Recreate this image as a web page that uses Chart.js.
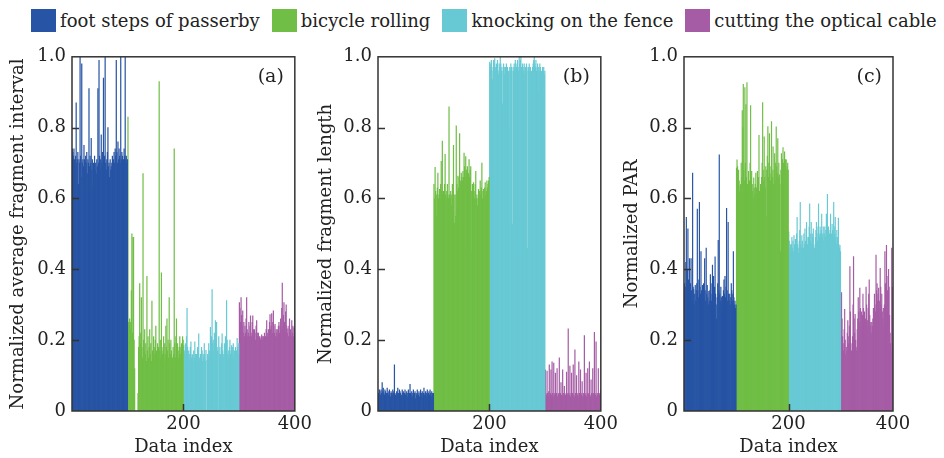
<!DOCTYPE html>
<html>
<head>
<meta charset="utf-8">
<script src="https://cdn.jsdelivr.net/npm/chart.js@4.4.0/dist/chart.umd.min.js"></script>
<style>
  html, body { margin: 0; padding: 0; background: #fff; }
  #page { position: relative; width: 944px; height: 458px; overflow: hidden; font-family: 'DejaVu Serif', serif; color: #222; }
  #legend { position: absolute; left: 31px; top: 9px; display: flex; align-items: center; font-size: 18px; white-space: nowrap; }
  #legend .item { display: flex; align-items: center; margin-right: 12px; }
  #legend .sw { display: inline-block; width: 25px; height: 23px; margin-right: 4px; }
  .panel { position: absolute; top: 40px; }
</style>
</head>
<body>
<div id="page">
  <div id="legend"></div>
  <canvas id="chartA" class="panel"></canvas>
  <canvas id="chartB" class="panel"></canvas>
  <canvas id="chartC" class="panel"></canvas>
</div>
<script>
const seriesNames = ['foot steps of passerby', 'bicycle rolling', 'knocking on the fence', 'cutting the optical cable'];
const colors = ['#2754a4', '#70be45', '#67c9d4', '#a55ca5'];
const xTicks = [200, 400];
const yTicks = [0, 0.2, 0.4, 0.6, 0.8, 1.0];

// (a) normalized average fragment interval
const footA = [0.74,0.73,0.72,0.74,0.71,0.69,0.72,0.87,0.70,0.71, 0.73,0.64,0.71,0.70,1.00,0.72,0.66,0.98,0.70,0.71,
  0.69,0.75,0.71,0.68,0.72,0.70,0.73,0.67,0.71,0.70, 0.91,0.69,0.72,0.70,0.77,0.68,0.71,0.63,0.70,0.69,
  0.72,0.68,0.70,0.67,0.71,0.69,0.91,0.70,0.99,0.72, 0.68,0.71,0.78,0.70,0.73,0.69,0.94,0.71,0.72,1.00,
  0.70,0.68,0.71,0.73,0.80,0.69,0.70,0.66,0.71,0.68, 0.69,0.70,0.72,0.67,0.71,0.73,0.70,0.74,0.72,0.99,
  0.73,0.70,0.76,0.71,0.74,0.72,0.70,1.00,0.71,0.73, 0.72,0.70,0.71,0.74,0.72,1.00,0.71,0.72,0.70,0.71];
const bicycleA = [0.83,0.25,0.24,0.26,0.23,0.25,0.34,0.50,0.22,0.49, 0.49,0.20,0.12,0,0,0,0,0,0.05,0.18,
  0.21,0.36,0.19,0.22,0.32,0.18,0.15,0.67,0.20,0.17, 0.23,0.16,0.19,0.14,0.38,0.17,0.21,0.15,0.18,0.23,
  0.16,0.19,0.14,0.31,0.17,0.15,0.21,0.18,0.16,0.20, 0.24,0.17,0.15,0.19,0.16,0.18,0.93,0.17,0.20,0.15,
  0.39,0.18,0.16,0.17,0.21,0.14,0.19,0.16,0.24,0.18, 0.26,0.17,0.20,0.15,0.32,0.19,0.16,0.20,0.17,0.14,
  0.15,0.18,0.16,0.74,0.19,0.15,0.21,0.26,0.17,0.19, 0.17,0.15,0.18,0.21,0.16,0.18,0.19,0.17,0.21,0.20];
const knockingA = [0.185,0.17,0.16,0.19,0,0.21,0.29,0.18,0.15,0.17, 0.16,0.14,0.18,0.195,0.15,0.16,0.158,0.14,0.17,0.15,
  0.195,0.16,0.14,0.16,0.15,0.18,0.17,0.218,0.15,0.14, 0.16,0.15,0.18,0.17,0.14,0.16,0.15,0.19,0.16,0.14,
  0.171,0,0.144,0.16,0.15,0.19,0.17,0.16,0.236,0.18, 0.21,0.343,0.19,0.20,0.17,0.22,0.19,0.255,0.20,0.25,
  0.18,0.17,0,0.21,0.16,0.18,0.16,0,0.19,0.218, 0.17,0.15,0.16,0.19,0,0.21,0.18,0.312,0.20,0.16,
  0.17,0.15,0.18,0.20,0.16,0.17,0.185,0.16,0.18,0.19, 0.15,0.17,0.16,0.18,0.15,0.17,0.205,0.18,0.16,0.19];
const cuttingA = [0.306,0.29,0.25,0.32,0.27,0.24,0.283,0.22,0.25,0.21, 0.24,0.22,0.26,0.32,0.23,0.21,0.22,0.25,0.21,0.24,
  0.269,0.22,0.21,0.25,0.269,0.23,0.21,0.23,0.22,0.20, 0.24,0.255,0.21,0.22,0.22,0.20,0.21,0.205,0.20,0.21,
  0.215,0.20,0.21,0.21,0.20,0.22,0.205,0.21,0.23,0.255, 0.21,0.22,0.23,0.20,0.25,0.272,0.23,0.24,0.275,0.22,
  0.25,0.283,0.24,0.22,0.245,0.21,0.23,0.22,0.23,0.21, 0.24,0.25,0.22,0.24,0.26,0.23,0.29,0.361,0.24,0.27,
  0.306,0.25,0.22,0.28,0.30,0.24,0.22,0.232,0.21,0.24, 0.26,0.22,0.23,0.21,0.255,0.22,0.24,0.21,0.235,0.22];

// (b) normalized fragment length
const footB = [0.05,0.04,0.06,0.055,0.045,0.06,0.05,0.08,0.055,0.065, 0.05,0.045,0.06,0.055,0.04,0.05,0.065,0.05,0.045,0.055,
  0.06,0.05,0.04,0.055,0.05,0.045,0.06,0.05,0.055,0.13, 0.05,0.045,0.04,0.055,0.05,0.065,0.05,0.045,0.06,0.055,
  0.05,0.04,0.045,0.06,0.05,0.055,0.045,0.05,0.06,0.045, 0.05,0.055,0.04,0.05,0.06,0.045,0.05,0.075,0.05,0.045,
  0.055,0.04,0.05,0.06,0.045,0.05,0.055,0.035,0.05,0.045, 0.06,0.05,0.045,0.055,0.04,0.05,0.06,0.045,0.05,0.055,
  0.04,0.05,0.065,0.045,0.05,0.055,0.04,0.05,0.06,0.045, 0.05,0.055,0.045,0.06,0.05,0.04,0.055,0.05,0.045,0.05];
const bicycleB = [0.64,0.60,0.688,0.62,0.55,0.61,0.63,0.672,0.60,0.61, 0.626,0.60,0.64,0.705,0.62,0.762,0.61,0.62,0.60,0.64,
  0.725,0.61,0.60,0.62,0.64,0.61,0.60,0.859,0.61,0.60, 0.62,0.58,0.61,0.64,0.60,0.75,0.61,0.53,0.61,0.55,
  0.805,0.64,0.62,0.663,0.63,0.66,0.783,0.64,0.65,0.672, 0.66,0.65,0.677,0.66,0.728,0.69,0.66,0.718,0.68,0.67,
  0.69,0.66,0.67,0.71,0.66,0.68,0.69,0.62,0.45,0.64, 0.60,0.645,0.62,0.60,0.64,0.677,0.60,0.61,0.58,0.60,
  0.626,0.60,0.62,0.65,0.61,0.63,0.70,0.60,0.62,0.626, 0.60,0.63,0.645,0.61,0.62,0.65,0.63,0.64,0.65,0.66];
const knockingB = [0.985,0.97,0.98,0.99,0.96,0.936,0.97,0.99,0.98,0.995, 0.97,0.96,0.98,0.97,0.99,0.96,0.95,0.98,0.97,1.00,
  0.98,0.96,0.97,0.867,0.96,0.98,0.97,0.95,0.97,0.97, 0.98,0.96,0.97,0.95,0.96,0.797,0.97,0.96,0.98,0.97,
  0.96,0.528,0.97,0.96,0.98,0.97,0.99,0.96,0.97,0.98, 0.99,0.97,0.96,1.00,0.98,0.99,1.00,0.97,0.96,0.98,
  0.97,0.96,0.98,0.95,0.97,0.96,0.98,0.97,0.46,0.96, 0.97,0.98,0.96,0.97,0.95,0.96,0.77,0.97,0.98,0.99,
  1.00,0.98,0.97,0.99,0.96,0.97,0.98,0.90,0.97,0.96, 0.98,0.97,0.95,0.96,0.616,0.97,0.96,0.97,0.95,0.96];
const cuttingB = [0.116,0.05,0.045,0.113,0.05,0.04,0.055,0.13,0.045,0.05, 0.116,0.045,0.139,0.05,0.04,0.135,0.045,0.05,0.107,0.045,
  0.05,0.12,0.04,0.045,0.05,0.15,0.045,0.05,0.08,0.045, 0.04,0.116,0.05,0.045,0.07,0.05,0.045,0.04,0.11,0.05,
  0.045,0.232,0.05,0.045,0.127,0.04,0.05,0.107,0.045,0.05, 0.13,0.045,0.04,0.173,0.05,0.045,0.10,0.05,0.045,0.04,
  0.139,0.05,0.045,0.116,0.05,0.045,0.083,0.04,0.05,0.045, 0.213,0.05,0.045,0.107,0.04,0.05,0.12,0.045,0.05,0.139,
  0.045,0.04,0.088,0.05,0.045,0.12,0.05,0.045,0.222,0.05, 0.045,0.195,0.04,0.05,0.045,0.12,0.05,0.045,0.05,0.06];

// (c) normalized PAR
const footC = [0.36,0.33,0.35,0.42,0.547,0.36,0.40,0.514,0.37,0.34, 0.43,0.32,0.36,0.43,0.34,0.31,0.672,0.35,0.343,0.30,
  0.33,0.355,0.31,0.34,0.36,0.57,0.34,0.32,0.37,0.589, 0.35,0.33,0.45,0.34,0.31,0.355,0.33,0.36,0.32,0.43,
  0.34,0.31,0.46,0.33,0.355,0.32,0.30,0.338,0.31,0.34, 0.385,0.33,0.31,0.36,0.412,0.34,0.38,0.32,0.35,0.435,
  0.33,0.30,0.26,0.32,0.36,0.482,0.34,0.723,0.33,0.31, 0.35,0.32,0.30,0.324,0.31,0.34,0.37,0.33,0.38,0.32,
  0.35,0.572,0.34,0.31,0.533,0.33,0.31,0.33,0.30,0.32, 0.36,0.34,0.31,0.33,0.45,0.32,0.30,0.31,0.29,0.30];
const bicycleC = [0.686,0.709,0.69,0.66,0.68,0.65,0.62,0.635,0.64,0.70, 0.66,0.848,0.80,0.922,0.68,0.65,0.913,0.70,0.865,0.66,
  0.927,0.64,0.62,0.677,0.63,0.65,0.70,0.862,0.66,0.677, 0.64,0.62,0.60,0.658,0.63,0.61,0.64,0.672,0.63,0.60,
  0.677,0.64,0.66,0.778,0.62,0.58,0.64,0.602,0.66,0.70, 0.871,0.68,0.65,0.774,0.66,0.63,0.69,0.55,0.68,0.72,
  0.803,0.66,0.70,0.783,0.67,0.65,0.69,0.817,0.68,0.66, 0.746,0.64,0.68,0.727,0.65,0.70,0.802,0.69,0.67,0.769,
  0.66,0.70,0.667,0.64,0.45,0.68,0.727,0.69,0.71,0.744, 0.70,0.68,0.732,0.69,0.71,0.709,0.68,0.69,0.70,0.68];
const knockingC = [0.505,0.48,0.46,0.47,0.45,0.47,0.49,0.46,0.48,0.45, 0.495,0.47,0.46,0.485,0.45,0.50,0.547,0.47,0.46,0.445,
  0.48,0.51,0.589,0.47,0.46,0.495,0.48,0.45,0.46,0.50, 0.47,0.514,0.48,0.46,0.533,0.49,0.47,0.455,0.49,0.52,
  0.585,0.50,0.48,0.533,0.47,0.50,0.49,0.514,0.47,0.46, 0.455,0.49,0.51,0.533,0.50,0.48,0.52,0.585,0.50,0.49,
  0.52,0.50,0.51,0.556,0.49,0.50,0.52,0.48,0.50,0.52, 0.49,0.51,0.556,0.50,0.612,0.49,0.52,0.495,0.50,0.51,
  0.556,0.49,0.50,0.527,0.51,0.49,0.589,0.52,0.50,0.547, 0.49,0.47,0.51,0.49,0.48,0.545,0.47,0.46,0.468,0.45];
const cuttingC = [0.32,0.334,0.26,0.21,0.19,0.17,0.23,0.287,0.20,0.16, 0.18,0.17,0.22,0.255,0.19,0.21,0.24,0.408,0.28,0.19,
  0.17,0.16,0.21,0.30,0.436,0.26,0.22,0.273,0.20,0.18, 0.17,0.23,0.26,0.32,0.28,0.25,0.347,0.29,0.24,0.28,
  0.22,0.27,0.33,0.29,0.25,0.28,0.23,0.26,0.35,0.30, 0.24,0.255,0.29,0.33,0.37,0.27,0.24,0.25,0.22,0.25,
  0.24,0.26,0.29,0.27,0.33,0.30,0.28,0.44,0.34,0.36, 0.31,0.33,0.347,0.29,0.31,0.403,0.35,0.30,0.33,0.28,
  0.26,0.29,0.24,0.30,0.45,0.36,0.33,0.468,0.38,0.34, 0.30,0.40,0.35,0.27,0.22,0.19,0.17,0.46,0.35,0.19];

const panels = [
  { id: 'chartA', left: 7, width: 308, plotLeft: 72, padRight: 20, tag: '(a)',
    yTitle: 'Normalized average fragment interval', series: [footA, bicycleA, knockingA, cuttingA] },
  { id: 'chartB', left: 315, width: 306, plotLeft: 378, padRight: 19, tag: '(b)',
    yTitle: 'Normalized fragment length', series: [footB, bicycleB, knockingB, cuttingB] },
  { id: 'chartC', left: 621, width: 323, plotLeft: 684, padRight: 51, tag: '(c)',
    yTitle: 'Normalized PAR', series: [footC, bicycleC, knockingC, cuttingC] }
];

const textColor = '#222';
const fontFamily = "'DejaVu Serif', serif";

// legend across the top
const legend = document.getElementById('legend');
seriesNames.forEach((name, k) => {
  const item = document.createElement('div');
  item.className = 'item';
  item.innerHTML = `<span class="sw" style="background:${colors[k]}"></span><span>${name}</span>`;
  legend.appendChild(item);
});

// box around the plot, inner tick marks and the panel tag
const frame = {
  id: 'frame',
  afterDatasetsDraw(chart, args, opts) {
    const { ctx, chartArea: a, scales: { x, y } } = chart;
    ctx.save();
    ctx.strokeStyle = '#333';
    ctx.lineWidth = 1.5;
    ctx.strokeRect(a.left, a.top, a.right - a.left, a.bottom - a.top);
    ctx.beginPath();
    y.ticks.forEach(t => {
      if (t.value > 0 && t.value < 1) {
        const py = Math.round(y.getPixelForValue(t.value)) + 0.5;
        ctx.moveTo(a.left, py);
        ctx.lineTo(a.left + 7, py);
      }
    });
    x.ticks.forEach(t => {
      if (t.value > 0 && t.value < 400) {
        const px = Math.round(x.getPixelForValue(t.value)) + 0.5;
        ctx.moveTo(px, a.bottom);
        ctx.lineTo(px, a.bottom - 7);
      }
    });
    ctx.stroke();
    ctx.fillStyle = textColor;
    ctx.font = '19px ' + fontFamily;
    ctx.textAlign = 'right';
    ctx.textBaseline = 'top';
    ctx.fillText(opts.tag, a.right - 11, a.top + 11);
    ctx.restore();
  }
};

function makePanel(p) {
  const canvas = document.getElementById(p.id);
  canvas.width = p.width;
  canvas.height = 418;
  canvas.style.left = p.left + 'px';
  canvas.style.width = p.width + 'px';
  canvas.style.height = '418px';

  const datasets = p.series.map((vals, k) => ({
    label: seriesNames[k],
    data: vals.map((v, i) => ({ x: k * 100 + i + 0.5, y: v })),
    backgroundColor: colors[k],
    borderWidth: 0,
    barPercentage: 1,
    categoryPercentage: 1,
    grouped: false
  }));

  return new Chart(canvas, {
    type: 'bar',
    data: { datasets },
    options: {
      responsive: false,
      animation: false,
      layout: { padding: { left: 0, right: p.padRight, top: 12, bottom: 0 } },
      plugins: {
        legend: { display: false },
        tooltip: { enabled: false },
        frame: { tag: p.tag }
      },
      scales: {
        x: {
          type: 'linear', min: 0, max: 400, offset: false,
          grid: { display: false, drawTicks: false, offset: false },
          border: { display: false },
          afterBuildTicks: s => { s.ticks = xTicks.map(v => ({ value: v })); },
          ticks: { padding: 3, maxRotation: 0, autoSkip: false, color: textColor, font: { family: fontFamily, size: 18 } },
          title: { display: true, text: 'Data index', color: textColor, font: { family: fontFamily, size: 18 }, padding: { top: 0, bottom: 0 } },
          afterFit: s => { s.height = 47; }
        },
        y: {
          min: 0, max: 1,
          grid: { display: false, drawTicks: false },
          border: { display: false },
          afterBuildTicks: s => { s.ticks = yTicks.map(v => ({ value: v })); },
          ticks: {
            padding: 6, color: textColor, font: { family: fontFamily, size: 18 },
            callback: v => (v === 0 ? '0' : v.toFixed(1))
          },
          title: { display: true, text: p.yTitle, color: textColor, font: { family: fontFamily, size: 18 }, padding: { top: 1, bottom: 0 } },
          afterFit: s => { s.width = p.plotLeft - p.left; }
        }
      }
    },
    plugins: [frame]
  });
}

panels.forEach(makePanel);
</script>
</body>
</html>
